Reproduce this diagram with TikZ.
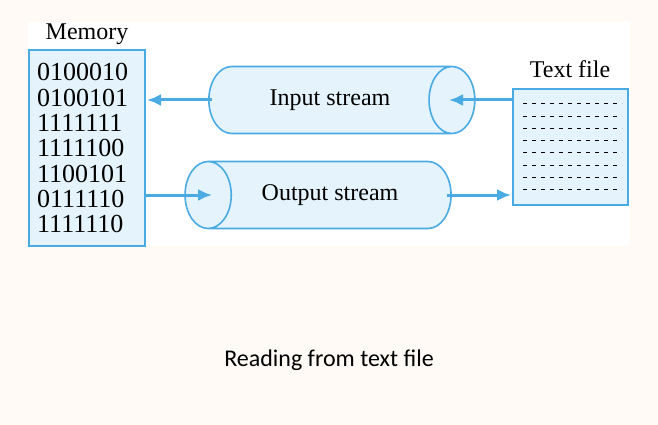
\documentclass[tikz,border=0pt]{standalone}
\usepackage{fontspec}
\setmainfont{Liberation Serif}
\newfontfamily\capfont{Carlito}
\usetikzlibrary{positioning}
\usetikzlibrary{shapes.geometric}
\usetikzlibrary{arrows.meta}
\definecolor{lineblue}{HTML}{4AABE3}
\definecolor{fillblue}{HTML}{E4F3FC}
\definecolor{paper}{HTML}{FFFAF6}
\tikzset{
  box/.style={draw=lineblue, line width=1.6pt, fill=fillblue},
  pipe/.style={cylinder, draw=lineblue, line width=1.6pt, fill=fillblue,
    minimum width=67pt, minimum height=266pt, aspect=2.2,
    font=\fontsize{24}{24}\selectfont, inner sep=0pt},
  flow/.style={-{Latex[length=14pt,width=12pt]}, draw=lineblue, line width=3pt},
  lbl/.style={font=\fontsize{24}{24}\selectfont}
}
\begin{document}
\begin{tikzpicture}[x=1pt,y=-1pt]
  \useasboundingbox[fill=paper] (0,0) rectangle (658,425);
  \fill[white] (28,22) rectangle (630,246);

  % memory block
  \draw[box] (29,50) rectangle (145,246);
  \node[lbl] (memlbl) at (87,34) {Memory};
  \foreach \bits [count=\i] in {0100010,0100101,1111111,1111100,1100101,0111110,1111110}
    \node[anchor=west, font=\fontsize{26}{26}\selectfont, inner sep=0pt] (bits\i) at (37,{47+25.3*\i}) {\bits};

  % streams
  \node[pipe] (instream) at (330,100) {Input stream};
  \node[pipe, shape border rotate=180] (outstream) at (330,195) {Output stream};

  % text file
  \draw[box] (513,89) rectangle (628,205);
  \node[lbl] (filelbl) at (570,69) {Text file};
  \foreach \j in {0,...,7}
    \draw[dash pattern=on 4pt off 5pt, line width=1pt] (523,{104+12.2*\j}) -- (622,{104+12.2*\j});
  \coordinate (filein) at (513,100);
  \coordinate (fileout) at (511,195);
  \coordinate (memin) at (147,100);
  \coordinate (memout) at (145,195);
  \coordinate (inleft) at (212,100);
  \coordinate (inright) at (449,100);
  \coordinate (outleft) at (212,195);
  \coordinate (outright) at (447,195);

  % arrows
  \draw[flow] (filein) -- (inright);
  \draw[flow] (inleft) -- (memin);
  \draw[flow] (memout) -- (outleft);
  \draw[flow] (outright) -- (fileout);

  \node[font=\capfont\fontsize{24}{24}\selectfont] (caption) at (329,360) {Reading from text file};
\end{tikzpicture}
\end{document}
